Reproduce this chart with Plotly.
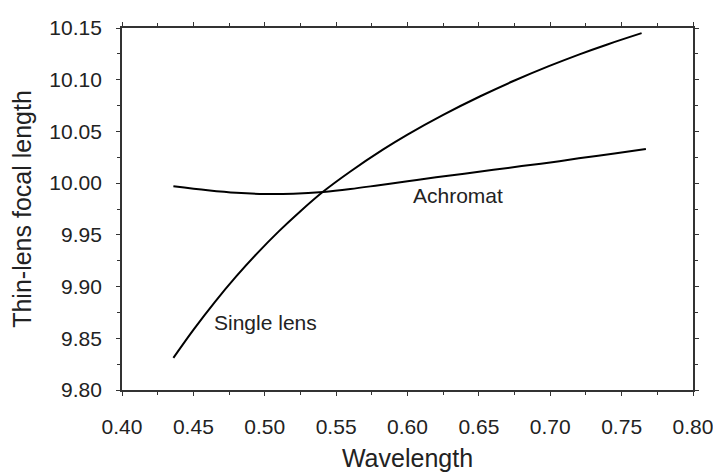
import plotly.graph_objects as go

# wavelength (micron) and thin-lens focal length
single_wl = [0.436, 0.450, 0.465, 0.480, 0.495, 0.510, 0.525, 0.541, 0.560,
             0.583, 0.600, 0.625, 0.651, 0.675, 0.699, 0.720, 0.740, 0.764]
single_f = [9.8310, 9.8581, 9.8850, 9.9098, 9.9326, 9.9536, 9.9729, 9.9919, 10.0113,
            10.0326, 10.0469, 10.0660, 10.0840, 10.0992, 10.1131, 10.1243, 10.1341, 10.1450]

achro_wl = [0.436, 0.460, 0.480, 0.500, 0.520, 0.541, 0.560, 0.580, 0.600,
            0.620, 0.650, 0.680, 0.700, 0.720, 0.745, 0.767]
achro_f = [9.9970, 9.9932, 9.9907, 9.9895, 9.9898, 9.9915, 9.9943, 9.9980, 10.0018,
           10.0056, 10.0110, 10.0165, 10.0200, 10.0240, 10.0286, 10.0330]

x_ticks = [0.40, 0.45, 0.50, 0.55, 0.60, 0.65, 0.70, 0.75, 0.80]
y_ticks = [9.80, 9.85, 9.90, 9.95, 10.00, 10.05, 10.10, 10.15]

font = dict(family="Liberation Sans, Arial, sans-serif", size=21, color="#222")

fig = go.Figure()
fig.add_trace(go.Scatter(x=single_wl, y=single_f, mode="lines", line=dict(color="black", width=2, shape="spline"),
                         showlegend=False))
fig.add_trace(go.Scatter(x=achro_wl, y=achro_f, mode="lines", line=dict(color="black", width=2, shape="spline"),
                         showlegend=False))

fig.add_annotation(x=0.5005, y=9.865, text="Single lens", showarrow=False, font=font)
fig.add_annotation(x=0.6357, y=9.988, text="Achromat", showarrow=False, font=font)

axis_common = dict(showline=True, linecolor="#333", linewidth=1.8, showgrid=False, zeroline=False,
                   ticks="outside", ticklen=4, tickwidth=1.2, tickcolor="#333", mirror="ticks")

# the page body has an 8px margin, so the figure is made 8px smaller and
# the left/top margins shrunk by 8 to keep the frame where the reference has it
fig.update_layout(
    width=713, height=468,
    margin=dict(l=102, r=22, t=8, b=67),
    paper_bgcolor="white", plot_bgcolor="white",
    font=font,
    xaxis=dict(axis_common, range=[0.40, 0.80], tickvals=x_ticks,
               ticktext=["%.2f" % v for v in x_ticks], ticklabelstandoff=13,
               ticklabeloverflow="allow",
               minor=dict(ticks="outside", ticklen=3, dtick=0.025, tick0=0.40, tickcolor="#333"),
               title=dict(text="Wavelength", standoff=12)),
    yaxis=dict(axis_common, range=[9.80, 10.15], tickvals=y_ticks,
               ticktext=["%.2f" % v for v in y_ticks], ticklabelstandoff=10,
               ticklabeloverflow="allow",
               minor=dict(ticks="outside", ticklen=3, dtick=0.025, tick0=9.80, tickcolor="#333"),
               title=dict(text="Thin-lens focal length", standoff=16)),
    # second pair of axes draws the inward half of each tick so they cross the frame
    xaxis2=dict(axis_common, overlaying="x", range=[0.40, 0.80], tickvals=x_ticks, ticks="inside",
                showticklabels=False,
                minor=dict(ticks="inside", ticklen=3, dtick=0.025, tick0=0.40, tickcolor="#333")),
    yaxis2=dict(axis_common, overlaying="y", side="left", range=[9.80, 10.15], tickvals=y_ticks,
                ticks="inside", showticklabels=False,
                minor=dict(ticks="inside", ticklen=3, dtick=0.025, tick0=9.80, tickcolor="#333")),
)

fig.write_html("out.html")
